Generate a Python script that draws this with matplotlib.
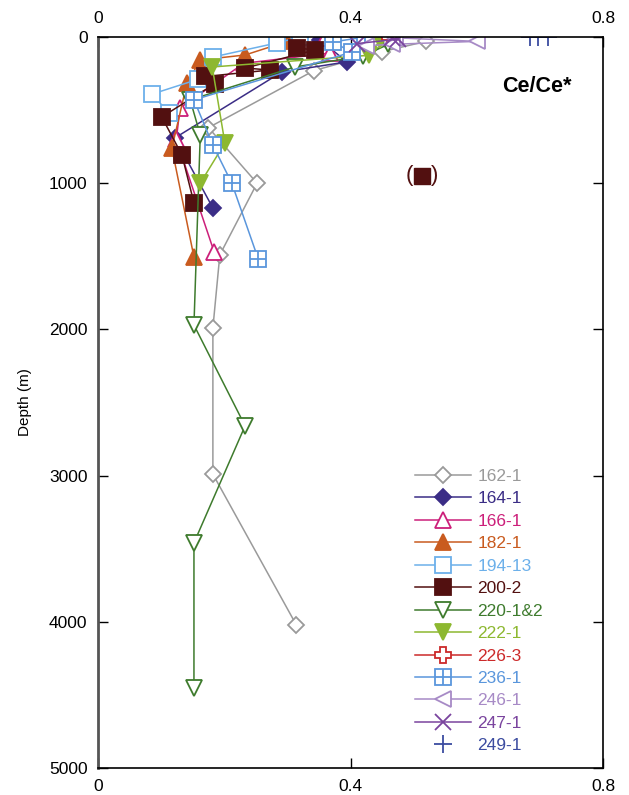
import matplotlib
matplotlib.use('Agg')
import matplotlib.pyplot as plt
from matplotlib.legend_handler import HandlerTuple

plt.rcParams['font.family'] = ['Liberation Sans', 'DejaVu Sans']

# ---------------- data (Ce/Ce* vs depth) ----------------
depth_162_1 = [30, 100, 230, 620, 1000, 1490, 1990, 2990, 4020]
ce_162_1 = [0.52, 0.45, 0.342, 0.175, 0.252, 0.193, 0.182, 0.182, 0.314]

depth_164_1 = [20, 170, 240, 690, 1170]
ce_164_1 = [0.352, 0.394, 0.291, 0.122, 0.182]

depth_166_1 = [5, 110, 180, 485, 700, 1470]
ce_166_1 = [0.36, 0.367, 0.231, 0.130, 0.124, 0.184]

depth_182_1 = [30, 123, 157, 315, 760, 1505]
ce_182_1 = [0.30, 0.233, 0.162, 0.141, 0.117, 0.152]

depth_194_13 = [0, 40, 137, 290, 390, 520]
ce_194_13 = [0.32, 0.284, 0.182, 0.158, 0.086, 0.112]

depth_200_2 = [75, 89, 212, 226, 270, 320, 547, 807, 1135]
ce_200_2 = [0.315, 0.344, 0.233, 0.272, 0.170, 0.185, 0.101, 0.133, 0.152]
depth_200_2_out = [950]
ce_200_2_out = [0.513]

depth_220 = [50, 130, 205, 430, 670, 1970, 2660, 3460, 4450]
ce_220 = [0.46, 0.42, 0.312, 0.146, 0.162, 0.152, 0.233, 0.152, 0.152]

depth_222_1 = [20, 125, 205, 725, 1000]
ce_222_1 = [0.447, 0.43, 0.181, 0.201, 0.162]

depth_226_3 = [0]
ce_226_3 = [0.462]

depth_236_1 = [0, 34, 103, 430, 740, 1000, 1520]
ce_236_1 = [0.423, 0.372, 0.402, 0.152, 0.182, 0.212, 0.254]

depth_246_1 = [5, 30, 50, 60]
ce_246_1 = [0.47, 0.60, 0.465, 0.425]

depth_247_1 = [5, 15, 45]
ce_247_1 = [0.465, 0.475, 0.41]

depth_249_1 = [0, 0, 0]
ce_249_1 = [0.684, 0.697, 0.713]

x_ticks = [0, 0.4, 0.8]
x_ticklabels = ['0', '0.4', '0.8']
y_ticks = [0, 1000, 2000, 3000, 4000, 5000]
y_ticklabels = ['0', '1000', '2000', '3000', '4000', '5000']

# ---------------- figure ----------------
fig = plt.figure(figsize=(6.29, 7.95), dpi=100)
ax = fig.add_axes([98/629, 1-768/795, 505/629, 731/795])

lw = 1.1
handles = []
labels = []

def series(x, y, label, color, marker, ms, filled, line=True, mew=1.3):
    h, = ax.plot(x, y, color=color, lw=lw if line else 0,
                 linestyle='-' if line else 'none',
                 marker=marker, markersize=ms,
                 markerfacecolor=color if filled else 'white',
                 markeredgecolor=color, markeredgewidth=mew)
    handles.append(h)
    labels.append(label)
    return h

c162 = '#9a9a9a'; c164 = '#3b2d86'; c166 = '#cc1f7a'; c182 = '#c95b1f'
c194 = '#6cb0ea'; c200 = '#521010'; c220 = '#3e7b2d'; c222 = '#8db830'
c226 = '#cc2a2a'; c236 = '#5a96dc'; c246 = '#a78ac6'; c247 = '#7a449e'
c249 = '#3c4ca0'

series(ce_162_1, depth_162_1, '162-1', c162, 'D', 8.0, False)
series(ce_164_1, depth_164_1, '164-1', c164, 'D', 8.0, True)
series(ce_166_1, depth_166_1, '166-1', c166, '^', 11.5, False)
series(ce_182_1, depth_182_1, '182-1', c182, '^', 11.5, True)
series(ce_194_13, depth_194_13, '194-13', c194, 's', 11, False)
series(ce_200_2, depth_200_2, '200-2', c200, 's', 11, True)
series(ce_220, depth_220, '220-1&2', c220, 'v', 11.5, False)
series(ce_222_1, depth_222_1, '222-1', c222, 'v', 11.5, True)
series(ce_226_3, depth_226_3, '226-3', c226, 'P', 11, False)
# 236-1: square with grid
h1, = ax.plot(ce_236_1, depth_236_1, color=c236, lw=lw, marker='s', markersize=11,
              markerfacecolor='white', markeredgecolor=c236, markeredgewidth=1.3)
h2, = ax.plot(ce_236_1, depth_236_1, linestyle='none', marker='+', markersize=11,
              markeredgecolor=c236, markeredgewidth=1.3)
handles.append((h1, h2)); labels.append('236-1')
series(ce_246_1, depth_246_1, '246-1', c246, '<', 11.5, False)
series(ce_247_1, depth_247_1, '247-1', c247, 'x', 11, False)
series(ce_249_1, depth_249_1, '249-1', c249, '+', 13, False, line=False)

# outlier in parentheses
ax.plot(ce_200_2_out, depth_200_2_out, linestyle='none', marker='s', markersize=11,
        markerfacecolor=c200, markeredgecolor=c200)
ax.annotate('(', (ce_200_2_out[0], depth_200_2_out[0]), xytext=(-9, 0),
            textcoords='offset points', ha='center', va='center',
            fontsize=16, color=c200)
ax.annotate(')', (ce_200_2_out[0], depth_200_2_out[0]), xytext=(9, 0),
            textcoords='offset points', ha='center', va='center',
            fontsize=16, color=c200)

ax.set_xlim(0, 0.8)
ax.set_ylim(5000, 0)
ax.set_xticks(x_ticks)
ax.set_xticklabels(x_ticklabels)
ax.set_yticks(y_ticks)
ax.set_yticklabels(y_ticklabels)
ax.tick_params(axis='both', direction='in', length=7.5, width=1.0,
               top=True, right=True, labeltop=True, labelbottom=True,
               labelsize=12.5)
ax.tick_params(axis='x', pad=8)
ax.tick_params(axis='y', pad=7.5)
for s in ax.spines.values():
    s.set_linewidth(1.2)
ax.spines['left'].set_color('#555555')
ax.spines['left'].set_linewidth(2.0)

ax.set_ylabel('Depth (m)', fontsize=11, labelpad=12)

ax.text((572-98)/505, 0.932, 'Ce/Ce*', transform=ax.transAxes, ha='right', va='center',
        fontsize=15.5, fontweight='bold')

leg = ax.legend(handles, labels, loc='lower left',
                bbox_to_anchor=((415-98)/505, 0.02), frameon=False,
                fontsize=12.5, handlelength=3.2, handletextpad=0.4,
                labelspacing=0.42, borderpad=0, borderaxespad=0,
                handler_map={tuple: HandlerTuple(ndivide=1)})
colors = [c162, c164, c166, c182, c194, c200, c220, c222, c226, c236, c246, c247, c249]
for t, c in zip(leg.get_texts(), colors):
    t.set_color(c)

fig.savefig('out.png', dpi=100)
